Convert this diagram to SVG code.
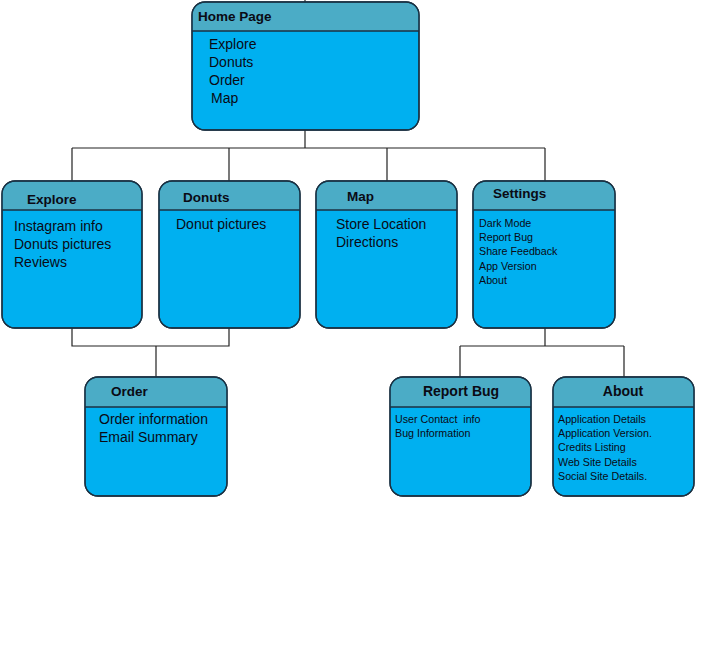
<svg xmlns="http://www.w3.org/2000/svg" width="702" height="645" viewBox="0 0 702 645">
<style>
.body{fill:#00b0f0;stroke:#1b3142;stroke-width:1.3}
.head{fill:#4bacc6}
.sep{stroke:#1b3142;stroke-width:1.3}
.t{font-family:"Liberation Sans",Arial,sans-serif;font-size:14px;fill:#0a0a14}
.s{font-family:"Liberation Sans",Arial,sans-serif;font-size:10.7px;fill:#0a0a14;white-space:pre}
.h{font-family:"Liberation Sans",Arial,sans-serif;font-size:13.5px;font-weight:bold;fill:#0a0a14}
.c{fill:none;stroke:#222;stroke-width:1.2}
</style>
<rect width="702" height="645" fill="#fff"/>
<g id="connectors">
<path class="c" d="M305 0V2M305 130V148M72 148H545M72 148V181M229 148V181M387 148V181M545 148V181"/>
<path class="c" d="M72 328V346H229V328M156 346V377"/>
<path class="c" d="M545 328V346M460 346H624M460 346V377M624 346V377"/>
</g>
<g id="home">
<rect class="body" x="192" y="2" width="227" height="128" rx="13"/>
<path class="head" d="M205 2.7H406A12.3 12.3 0 0 1 418.3 15V31H192.7V15A12.3 12.3 0 0 1 205 2.7Z"/>
<rect x="192" y="2" width="227" height="128" rx="13" fill="none" stroke="#1b3142" stroke-width="1.3"/>
<line class="sep" x1="192" y1="31" x2="419" y2="31"/>
<text class="h" x="198" y="21">Home Page</text>
<text class="t" x="209" y="49">Explore</text>
<text class="t" x="209" y="67">Donuts</text>
<text class="t" x="209" y="85">Order</text>
<text class="t" x="211" y="103">Map</text>
</g>
<g id="explore">
<rect class="body" x="2" y="181" width="140" height="147" rx="13"/>
<path class="head" d="M15 181.7H129A12.3 12.3 0 0 1 141.3 194V210H2.7V194A12.3 12.3 0 0 1 15 181.7Z"/>
<rect x="2" y="181" width="140" height="147" rx="13" fill="none" stroke="#1b3142" stroke-width="1.3"/>
<line class="sep" x1="2" y1="210" x2="142" y2="210"/>
<text class="h" x="27" y="204">Explore</text>
<text class="t" x="14" y="231">Instagram info</text>
<text class="t" x="14" y="249">Donuts pictures</text>
<text class="t" x="14" y="267">Reviews</text>
</g>
<g id="donuts">
<rect class="body" x="159" y="181" width="141" height="147" rx="13"/>
<path class="head" d="M172 181.7H287A12.3 12.3 0 0 1 299.3 194V210H159.7V194A12.3 12.3 0 0 1 172 181.7Z"/>
<rect x="159" y="181" width="141" height="147" rx="13" fill="none" stroke="#1b3142" stroke-width="1.3"/>
<line class="sep" x1="159" y1="210" x2="300" y2="210"/>
<text class="h" x="183" y="202">Donuts</text>
<text class="t" x="176" y="229">Donut pictures</text>
</g>
<g id="map">
<rect class="body" x="316" y="181" width="141" height="147" rx="13"/>
<path class="head" d="M329 181.7H444A12.3 12.3 0 0 1 456.3 194V210H316.7V194A12.3 12.3 0 0 1 329 181.7Z"/>
<rect x="316" y="181" width="141" height="147" rx="13" fill="none" stroke="#1b3142" stroke-width="1.3"/>
<line class="sep" x1="316" y1="210" x2="457" y2="210"/>
<text class="h" x="347" y="201">Map</text>
<text class="t" x="336" y="229">Store Location</text>
<text class="t" x="336" y="247">Directions</text>
</g>
<g id="settings">
<rect class="body" x="473" y="181" width="142" height="147" rx="13"/>
<path class="head" d="M486 181.7H602A12.3 12.3 0 0 1 614.3 194V210H473.7V194A12.3 12.3 0 0 1 486 181.7Z"/>
<rect x="473" y="181" width="142" height="147" rx="13" fill="none" stroke="#1b3142" stroke-width="1.3"/>
<line class="sep" x1="473" y1="210" x2="615" y2="210"/>
<text class="h" x="493" y="198">Settings</text>
<text class="s" x="479" y="227">Dark Mode</text>
<text class="s" x="479" y="241">Report Bug</text>
<text class="s" x="479" y="255">Share Feedback</text>
<text class="s" x="479" y="270">App Version</text>
<text class="s" x="479" y="284">About</text>
</g>
<g id="order">
<rect class="body" x="85" y="377" width="142" height="119" rx="13"/>
<path class="head" d="M98 377.7H214A12.3 12.3 0 0 1 226.3 390V407H85.7V390A12.3 12.3 0 0 1 98 377.7Z"/>
<rect x="85" y="377" width="142" height="119" rx="13" fill="none" stroke="#1b3142" stroke-width="1.3"/>
<line class="sep" x1="85" y1="407" x2="227" y2="407"/>
<text class="h" x="111" y="396">Order</text>
<text class="t" x="99" y="424">Order information</text>
<text class="t" x="99" y="442">Email Summary</text>
</g>
<g id="reportbug">
<rect class="body" x="390" y="377" width="141" height="119" rx="13"/>
<path class="head" d="M403 377.7H518A12.3 12.3 0 0 1 530.3 390V407H390.7V390A12.3 12.3 0 0 1 403 377.7Z"/>
<rect x="390" y="377" width="141" height="119" rx="13" fill="none" stroke="#1b3142" stroke-width="1.3"/>
<line class="sep" x1="390" y1="407" x2="531" y2="407"/>
<text class="h" x="461" y="396" text-anchor="middle" style="font-size:14px">Report Bug</text>
<text class="s" x="395" y="423">User Contact  info</text>
<text class="s" x="395" y="437">Bug Information</text>
</g>
<g id="about">
<rect class="body" x="553" y="377" width="141" height="119" rx="13"/>
<path class="head" d="M566 377.7H681A12.3 12.3 0 0 1 693.3 390V407H553.7V390A12.3 12.3 0 0 1 566 377.7Z"/>
<rect x="553" y="377" width="141" height="119" rx="13" fill="none" stroke="#1b3142" stroke-width="1.3"/>
<line class="sep" x1="553" y1="407" x2="694" y2="407"/>
<text class="h" x="623" y="396" text-anchor="middle" style="font-size:14px">About</text>
<text class="s" x="558" y="423">Application Details</text>
<text class="s" x="558" y="437">Application Version.</text>
<text class="s" x="558" y="451">Credits Listing</text>
<text class="s" x="558" y="466">Web Site Details</text>
<text class="s" x="558" y="480">Social Site Details.</text>
</g>
</svg>
